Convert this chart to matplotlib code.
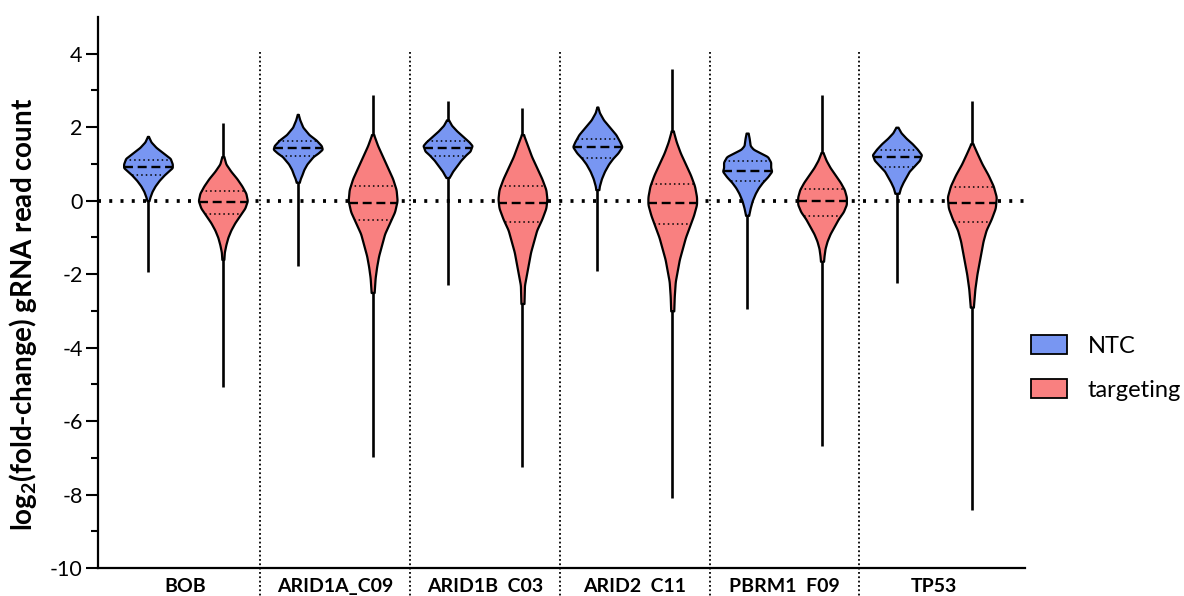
import numpy as np
import matplotlib.pyplot as plt
from matplotlib.patches import Patch

plt.rcParams['font.family'] = ['Lato', 'DejaVu Sans']
plt.rcParams['mathtext.fontset'] = 'custom'
plt.rcParams['mathtext.rm'] = 'Lato'
plt.rcParams['mathtext.bf'] = 'Lato:bold'
plt.rcParams['axes.unicode_minus'] = False

# --- data ---
groups = ['BOB', 'ARID1A_C09', 'ARID1B  C03', 'ARID2  C11', 'PBRM1  F09', 'TP53']
series = ['NTC', 'targeting']

# order: NTC, targeting for each group in turn
medians = [0.92, -0.03, 1.44, -0.06, 1.43, -0.06, 1.45, -0.07, 0.81, -0.02, 1.18, -0.05]
q3 = [1.11, 0.26, 1.62, 0.39, 1.63, 0.41, 1.69, 0.45, 1.09, 0.32, 1.38, 0.38]
q1 = [0.70, -0.35, 1.22, -0.52, 1.22, -0.59, 1.15, -0.64, 0.53, -0.41, 0.93, -0.58]
maxs = [1.75, 2.12, 2.36, 2.88, 2.70, 2.52, 2.54, 3.58, 1.84, 2.88, 2.01, 2.70]
mins = [-1.93, -5.06, -1.77, -6.99, -2.29, -7.24, -1.92, -8.10, -2.95, -6.67, -2.24, -8.41]

# violin outlines: (y, relative density)
bob_ntc = [(1.75, 0.5), (1.6, 3), (1.45, 8), (1.3, 15), (1.15, 22), (1.0, 24), (0.9, 24),
           (0.8, 20), (0.7, 16), (0.55, 11), (0.4, 7), (0.25, 4), (0.1, 2), (0.0, 1)]
bob_tgt = [(1.2, 1), (1.0, 3), (0.8, 8), (0.6, 14), (0.4, 19), (0.2, 23), (0.0, 24.5),
           (-0.2, 22), (-0.4, 17), (-0.6, 12), (-0.8, 8), (-1.0, 5), (-1.2, 3), (-1.4, 1.5), (-1.6, 1)]
arid1a_ntc = [(2.35, 0.5), (2.2, 2), (2.0, 5), (1.8, 11), (1.65, 18), (1.5, 23), (1.4, 24),
              (1.3, 20), (1.2, 15), (1.1, 12), (1.0, 9), (0.85, 6), (0.7, 4), (0.6, 2.5), (0.5, 1.5)]
arid1a_tgt = [(1.8, 1), (1.5, 5), (1.2, 10), (0.9, 15), (0.6, 20), (0.3, 23.5), (0.0, 24.5),
              (-0.3, 22), (-0.6, 17), (-0.9, 12), (-1.2, 9), (-1.5, 6), (-1.8, 4), (-2.1, 2.5), (-2.5, 1.5)]
arid1b_ntc = [(2.2, 1), (2.05, 4), (1.9, 9), (1.75, 15), (1.6, 21), (1.5, 24), (1.35, 22),
              (1.25, 18), (1.1, 13), (0.95, 9), (0.8, 5), (0.7, 3), (0.63, 1.5)]
arid1b_tgt = [(1.8, 1), (1.5, 5), (1.2, 9), (0.9, 14), (0.6, 19), (0.3, 23), (0.05, 24),
              (-0.2, 23), (-0.5, 19), (-0.8, 14), (-1.1, 11), (-1.4, 8), (-1.7, 6), (-2.0, 4),
              (-2.3, 2), (-2.8, 1.5)]
arid2_ntc = [(2.55, 0.5), (2.4, 2), (2.2, 6), (2.0, 12), (1.8, 18), (1.6, 22), (1.47, 24),
             (1.3, 20), (1.15, 15), (1.0, 11), (0.8, 7), (0.6, 4), (0.4, 2), (0.3, 1.5)]
arid2_tgt = [(1.9, 1), (1.6, 4), (1.3, 8), (1.0, 13), (0.7, 18), (0.4, 22), (0.1, 24), (-0.1, 24),
             (-0.4, 21), (-0.7, 17), (-1.0, 13), (-1.3, 10), (-1.6, 7), (-1.9, 5), (-2.2, 3),
             (-2.6, 2), (-3.0, 1.5)]
pbrm1_ntc = [(1.84, 1), (1.7, 2), (1.5, 3), (1.4, 6), (1.3, 13), (1.2, 20), (1.05, 23), (0.9, 23),
             (0.8, 24), (0.65, 20), (0.5, 15), (0.35, 11), (0.2, 8), (0.0, 5), (-0.2, 3), (-0.4, 1.5)]
pbrm1_tgt = [(1.31, 1), (1.1, 4), (0.9, 8), (0.7, 13), (0.5, 18), (0.3, 22), (0.1, 24), (-0.1, 24),
             (-0.3, 21), (-0.5, 16), (-0.7, 12), (-0.9, 8), (-1.1, 5), (-1.3, 3), (-1.5, 2), (-1.65, 1.5)]
tp53_ntc = [(2.0, 1), (1.85, 4), (1.7, 9), (1.55, 15), (1.4, 20), (1.25, 24), (1.1, 22),
            (0.95, 17), (0.8, 12), (0.65, 9), (0.5, 6), (0.35, 3.5), (0.2, 2)]
tp53_tgt = [(1.55, 1), (1.3, 5), (1.0, 10), (0.7, 16), (0.4, 21), (0.1, 24), (-0.2, 23),
            (-0.5, 19), (-0.8, 14), (-1.1, 11), (-1.4, 9), (-1.7, 7), (-2.0, 5), (-2.4, 3), (-2.9, 1.5)]

profiles = [bob_ntc, bob_tgt, arid1a_ntc, arid1a_tgt, arid1b_ntc, arid1b_tgt,
            arid2_ntc, arid2_tgt, pbrm1_ntc, pbrm1_tgt, tp53_ntc, tp53_tgt]

colors = ['#7896F2', '#F98080']
HALF = 0.325  # max half-width of a violin, in x units


def outline(profile, n=400, win=11):
    """Interpolate a (y, density) outline onto a fine grid and smooth it a bit."""
    py = np.array([p[0] for p in profile])
    pw = np.array([p[1] for p in profile], dtype=float)
    order = np.argsort(py)
    yy = np.linspace(py.min(), py.max(), n)
    ww = np.interp(yy, py[order], pw[order])
    k = np.ones(win) / win
    ww = np.convolve(np.pad(ww, win // 2, mode='edge'), k, mode='valid')
    return yy, ww / ww.max() * HALF


fig = plt.figure(figsize=(11.84, 5.96), dpi=100)
ax = fig.add_axes([98 / 1184, 1 - 568 / 596, 927 / 1184, 551 / 596])

ax.axhline(0, color='black', lw=2.7, ls=(0, (0.8, 2.2)), zorder=1)

for i, prof in enumerate(profiles):
    x = i
    yy, ww = outline(prof)
    ax.vlines(x, mins[i], maxs[i], color='black', lw=1.9, zorder=2)
    ax.fill_betweenx(yy, x - ww, x + ww, facecolor=colors[i % 2], edgecolor='black',
                     lw=1.6, zorder=3)
    wm = np.interp(medians[i], yy, ww)
    ax.plot([x - wm, x + wm], [medians[i]] * 2, color='black', lw=1.7,
            ls=(0, (3.8, 2.0)), zorder=4)
    for q in (q1[i], q3[i]):
        wq = np.interp(q, yy, ww)
        ax.plot([x - wq, x + wq], [q] * 2, color='black', lw=1.1,
                ls=(0, (1, 2)), zorder=4)

# group separators
for s in np.arange(1.5, 2 * len(groups) - 1, 2):
    ax.plot([s, s], [4.05, -10.8], color='black', lw=1.3, ls=(0, (1, 1.4)),
            clip_on=False, zorder=1)

ax.set_xlim(-0.667, 11.71)
ax.set_ylim(-10, 5)
ax.set_yticks(np.arange(-10, 5, 2))
ax.set_yticks(np.arange(-9, 5, 2), minor=True)
ax.tick_params(axis='y', which='major', length=9, width=1.5, labelsize=15.5, pad=2)
ax.tick_params(axis='y', which='minor', length=5, width=1.5)
ax.set_xticks(np.arange(0.5, 2 * len(groups), 2))
ax.set_xticklabels(groups, fontweight='bold', fontsize=14)
ax.tick_params(axis='x', length=0, pad=7)

for side in ('top', 'right'):
    ax.spines[side].set_visible(False)
for side in ('left', 'bottom'):
    ax.spines[side].set_linewidth(1.6)

ax.set_ylabel(r'log$_{\mathbf{2}}$(fold-change) gRNA read count', fontweight='bold',
              fontsize=20)
ax.yaxis.set_label_coords(-0.064, 0.46)

handles = [Patch(facecolor=colors[0], edgecolor='black', lw=1.3, label=series[0]),
           Patch(facecolor=colors[1], edgecolor='black', lw=1.3, label=series[1])]
fig.legend(handles=handles, loc='upper left', bbox_to_anchor=(1022 / 1184, 1 - 326 / 596),
           frameon=False, fontsize=17, handlelength=1.52, handleheight=0.85,
           handletextpad=0.85, labelspacing=0.95, borderaxespad=0)

fig.savefig('out.png', dpi=100)
